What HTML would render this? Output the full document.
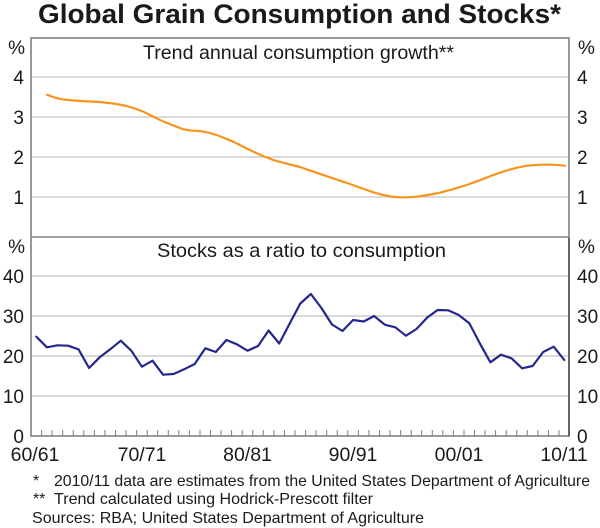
<!DOCTYPE html>
<html><head><meta charset="utf-8"><style>
html,body{margin:0;padding:0;background:#fff;}
svg{display:block;}
text{font-family:"Liberation Sans",Arial,sans-serif;fill:#1a1a1a;}
</style></head><body>
<svg width="600" height="528" viewBox="0 0 600 528" xmlns="http://www.w3.org/2000/svg">
<text x="38" y="23" font-size="27" font-weight="bold" textLength="523" lengthAdjust="spacingAndGlyphs">Global Grain Consumption and Stocks*</text>
<!-- gridlines -->
<g stroke="#c4c4c4" stroke-width="1.3">
<line x1="31" y1="77" x2="569" y2="77"/>
<line x1="31" y1="117" x2="569" y2="117"/>
<line x1="31" y1="157" x2="569" y2="157"/>
<line x1="31" y1="197" x2="569" y2="197"/>
<line x1="31" y1="276" x2="569" y2="276"/>
<line x1="31" y1="316" x2="569" y2="316"/>
<line x1="31" y1="356" x2="569" y2="356"/>
<line x1="31" y1="396" x2="569" y2="396"/>
</g>
<!-- ticks -->
<g stroke="#808080" stroke-width="1">
<path d="M41.6 436v-6M52.1 436v-6M62.7 436v-6M73.2 436v-6M83.8 436v-6M94.4 436v-6M104.9 436v-6M115.5 436v-6M126.0 436v-6M136.6 436v-6M147.2 436v-6M157.7 436v-6M168.3 436v-6M178.8 436v-6M189.4 436v-6M200.0 436v-6M210.5 436v-6M221.1 436v-6M231.6 436v-6M242.2 436v-6M252.8 436v-6M263.3 436v-6M273.9 436v-6M284.4 436v-6M295.0 436v-6M305.6 436v-6M316.1 436v-6M326.7 436v-6M337.2 436v-6M347.8 436v-6M358.4 436v-6M368.9 436v-6M379.5 436v-6M390.0 436v-6M400.6 436v-6M411.2 436v-6M421.7 436v-6M432.3 436v-6M442.8 436v-6M453.4 436v-6M464.0 436v-6M474.5 436v-6M485.1 436v-6M495.6 436v-6M506.2 436v-6M516.8 436v-6M527.3 436v-6M537.9 436v-6M548.4 436v-6M559.0 436v-6"/>
</g>
<!-- borders -->
<g stroke="#808080" stroke-width="1.6" fill="none">
<rect x="31" y="38" width="538" height="398"/>
<line x1="31" y1="237" x2="569" y2="237"/>
</g>
<line x1="569" y1="238" x2="569" y2="436" stroke="#333" stroke-width="1.2"/>
<!-- orange series -->
<polyline fill="none" stroke="#f7941d" stroke-width="2.2" stroke-linejoin="round" stroke-linecap="round"
points="47,94.7 55,97.6 62,99.3 72,100.4 80,101 90,101.5 100,102 114,103.6 126.7,106 135,108.5 143.3,111.7 151,115.5 160,120 172,125 183.3,129.3 192,130.7 200,131 208,132.6 216.7,135 225,138.3 233.3,141.7 243,146.6 253.3,151.7 263,156 273.3,160 286,163.5 300,167 316,172.6 333,178.3 350,184 366.7,190 375,192.8 383.3,195 391,196.6 400,197.3 408,197.3 416.7,196.7 428,195 440,192.7 453,189.2 466.7,185 480,180.2 493.3,175 505,171 516.7,167.7 528,165.6 540,164.7 553.3,164.7 565,165.7"/>
<!-- blue series -->
<polyline fill="none" stroke="#24288c" stroke-width="2.2" stroke-linejoin="round" stroke-linecap="round"
points="36.3,336.7 46.9,347.3 57.4,345.3 68.0,345.7 78.5,349.3 89.1,368 99.7,357.3 110.2,349.3 120.8,340.7 131.3,350.7 141.9,366.7 152.5,360.7 163.0,374.7 173.6,374 184.1,369.3 194.7,364 205.3,348.3 215.8,352 226.4,340 236.9,344.3 247.5,350.7 258.1,346 268.6,330.5 279.2,343.5 289.7,323.5 300.3,303.5 310.9,294 321.4,308 332.0,324.5 342.5,331 353.1,320 363.7,321.5 374.2,316 384.8,324.7 395.3,327.3 405.9,335.7 416.5,329 427.0,317.7 437.6,310 448.1,310.3 458.7,315 469.3,323.3 479.8,343.3 490.4,362.3 500.9,354.7 511.5,358.3 522.1,368.3 532.6,366 543.2,352 553.7,346.7 564.3,360"/>
<!-- panel titles -->
<text x="143" y="59" font-size="19.5" textLength="311" lengthAdjust="spacingAndGlyphs">Trend annual consumption growth**</text>
<text x="157" y="257" font-size="19.5" textLength="289" lengthAdjust="spacingAndGlyphs">Stocks as a ratio to consumption</text>
<!-- left axis labels -->
<g font-size="19" text-anchor="end">
<text x="25" y="54">%</text>
<text x="24" y="84">4</text>
<text x="24" y="124">3</text>
<text x="24" y="164">2</text>
<text x="24" y="204">1</text>
<text x="25" y="253">%</text>
<text x="24" y="283">40</text>
<text x="24" y="323">30</text>
<text x="24" y="363">20</text>
<text x="24" y="403">10</text>
<text x="24" y="443">0</text>
</g>
<g font-size="19" text-anchor="start">
<text x="578" y="54">%</text>
<text x="577" y="84">4</text>
<text x="577" y="124">3</text>
<text x="577" y="164">2</text>
<text x="577" y="204">1</text>
<text x="578" y="253">%</text>
<text x="577" y="283">40</text>
<text x="577" y="323">30</text>
<text x="577" y="363">20</text>
<text x="577" y="403">10</text>
<text x="577" y="443">0</text>
</g>
<!-- x labels -->
<g font-size="19.5" text-anchor="middle">
<text x="35" y="461">60/61</text>
<text x="142" y="461">70/71</text>
<text x="247.5" y="461">80/81</text>
<text x="353" y="461">90/91</text>
<text x="459" y="461">00/01</text>
<text x="564" y="461">10/11</text>
</g>
<!-- footnotes -->
<g font-size="15.8">
<text x="33" y="486">*</text>
<text x="54" y="486" textLength="536" lengthAdjust="spacingAndGlyphs">2010/11 data are estimates from the United States Department of Agriculture</text>
<text x="33" y="504">**</text>
<text x="54" y="504" textLength="319" lengthAdjust="spacingAndGlyphs">Trend calculated using Hodrick-Prescott filter</text>
<text x="32" y="523" textLength="392" lengthAdjust="spacingAndGlyphs">Sources: RBA; United States Department of Agriculture</text>
</g>
</svg>
</body></html>
